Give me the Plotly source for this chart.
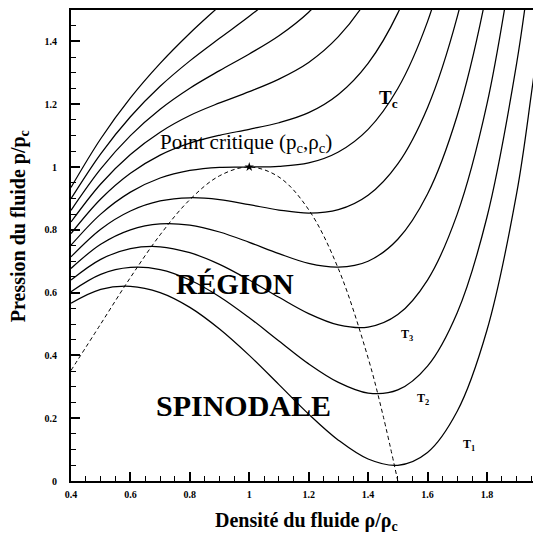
import plotly.graph_objects as go

# Reduced density grid (rho / rho_c)
rho = [0.4, 0.5, 0.6, 0.7, 0.8, 0.9, 1.0, 1.1, 1.2, 1.3, 1.4, 1.5, 1.6, 1.7, 1.8, 1.9, 1.95, 2.0]

# Isotherms (p / p_c), lowest (T1) to highest
iso_T085 = [0.566, 0.610, 0.620, 0.600, 0.553, 0.484, 0.400, 0.307, 0.213, 0.130, 0.070, 0.050, 0.091, 0.222, 0.480, 0.916, 1.236, 1.600]
iso_T088 = [0.603, 0.658, 0.680, 0.673, 0.640, 0.587, 0.520, 0.446, 0.373, 0.314, 0.280, 0.290, 0.366, 0.536, 0.840, 1.330, 1.667, 2.080]
iso_T091 = [0.640, 0.706, 0.740, 0.746, 0.727, 0.690, 0.640, 0.585, 0.533, 0.497, 0.490, 0.530, 0.640, 0.850, 1.200, 1.745]
iso_T094 = [0.677, 0.754, 0.800, 0.819, 0.815, 0.793, 0.760, 0.724, 0.693, 0.681, 0.700, 0.770, 0.914, 1.164, 1.560, 2.159]
iso_T097 = [0.714, 0.802, 0.860, 0.892, 0.902, 0.896, 0.880, 0.863, 0.853, 0.864, 0.910, 1.010, 1.189, 1.478, 1.920]
iso_T100 = [0.751, 0.850, 0.920, 0.965, 0.989, 0.999, 1.000, 1.002, 1.013, 1.048, 1.120, 1.250, 1.463, 1.792]
iso_T103 = [0.788, 0.898, 0.980, 1.038, 1.076, 1.101, 1.120, 1.141, 1.173, 1.231, 1.330, 1.490, 1.737]
iso_T106 = [0.825, 0.946, 1.040, 1.111, 1.164, 1.204, 1.240, 1.280, 1.333, 1.415, 1.540, 1.730]
iso_T109 = [0.862, 0.994, 1.100, 1.184, 1.251, 1.307, 1.360, 1.418, 1.493, 1.598, 1.750]
iso_T112 = [0.899, 1.042, 1.160, 1.257, 1.338, 1.410, 1.480, 1.557, 1.653]
iso_T115 = [0.935, 1.090, 1.220, 1.330, 1.426, 1.513, 1.600, 1.696]

isotherms = [iso_T085, iso_T088, iso_T091, iso_T094, iso_T097, iso_T100,
             iso_T103, iso_T106, iso_T109, iso_T112, iso_T115]

# Spinodal (dashed) curve
spin_rho = [0.4, 0.5, 0.6, 0.7, 0.8, 0.9, 1.0, 1.1, 1.2, 1.3, 1.4, 1.45, 1.5]
spin_p = [0.352, 0.500, 0.648, 0.784, 0.896, 0.972, 1.000, 0.968, 0.864, 0.676, 0.392, 0.210, 0.000]

crit_rho = [1.0]
crit_p = [1.0]

fig = go.Figure()
for ys in isotherms:
    fig.add_trace(go.Scatter(x=rho[:len(ys)], y=ys, mode="lines",
                             line=dict(color="black", width=1.25, shape="spline", smoothing=1.0),
                             hoverinfo="skip", showlegend=False))

fig.add_trace(go.Scatter(x=spin_rho, y=spin_p, mode="lines",
                         line=dict(color="black", width=1, dash="4px,3px", shape="spline", smoothing=1.0),
                         hoverinfo="skip", showlegend=False))
fig.add_trace(go.Scatter(x=crit_rho, y=crit_p, mode="markers",
                         marker=dict(symbol="star", size=7, color="black"),
                         hoverinfo="skip", showlegend=False))

serif = "Liberation Serif"
ann = []
def add(text, x, y, size, bold=True, **kw):
    ann.append(dict(text=text, x=x, y=y, xref="x", yref="y", showarrow=False,
                    font=dict(family=serif, size=size, color="black",
                              weight="bold" if bold else "normal"), **kw))

add("Point critique (p<sub>c</sub>,ρ<sub>c</sub>)", 0.99, 1.075, 21, bold=False)
add("T<sub>c</sub>", 1.467, 1.218, 19)
add("RÉGION", 0.953, 0.628, 29)
add("SPINODALE", 0.98, 0.24, 30)
add("T<sub>3</sub>", 1.53, 0.466, 12)
add("T<sub>2</sub>", 1.585, 0.26, 12)
add("T<sub>1</sub>", 1.74, 0.115, 12)

# axis titles
ann.append(dict(text="Densité du fluide ρ/ρ<sub>c</sub>", x=0.5, y=0, xref="paper", yref="paper",
                yshift=-40, yanchor="middle", showarrow=False,
                font=dict(family=serif, size=20, color="black", weight="bold")))
ann.append(dict(text="Pression du fluide p/p<sub>c</sub>", x=0, y=0.541, xref="paper", yref="paper",
                xshift=-52, xanchor="center", textangle=-90, showarrow=False,
                font=dict(family=serif, size=20, color="black", weight="bold")))

fig.update_layout(
    width=533, height=532,
    margin=dict(l=63, r=0, t=0, b=59),
    paper_bgcolor="white", plot_bgcolor="white",
    annotations=ann,
    xaxis=dict(range=[0.4, 1.982], showgrid=False, zeroline=False,
               showline=True, linecolor="black", linewidth=2, mirror=True,
               tickmode="linear", tick0=0.4, dtick=0.2,
               ticks="inside", ticklen=9, tickwidth=1.5, tickcolor="black",
               tickfont=dict(family=serif, size=10, color="black", weight="bold"),
               minor=dict(dtick=0.05, tick0=0.4, ticks="inside", ticklen=5,
                          tickwidth=1.2, tickcolor="black", showgrid=False),
               ticklabelstandoff=3),
    yaxis=dict(range=[0, 1.5], showgrid=False, zeroline=False,
               showline=True, linecolor="black", linewidth=2, mirror=False,
               tickmode="linear", tick0=0, dtick=0.2,
               ticks="inside", ticklen=9, tickwidth=1.5, tickcolor="black",
               tickfont=dict(family=serif, size=10, color="black", weight="bold"),
               minor=dict(dtick=0.05, tick0=0, ticks="inside", ticklen=5,
                          tickwidth=1.2, tickcolor="black", showgrid=False),
               ticklabelstandoff=10),
)

fig.write_html("out.html")
